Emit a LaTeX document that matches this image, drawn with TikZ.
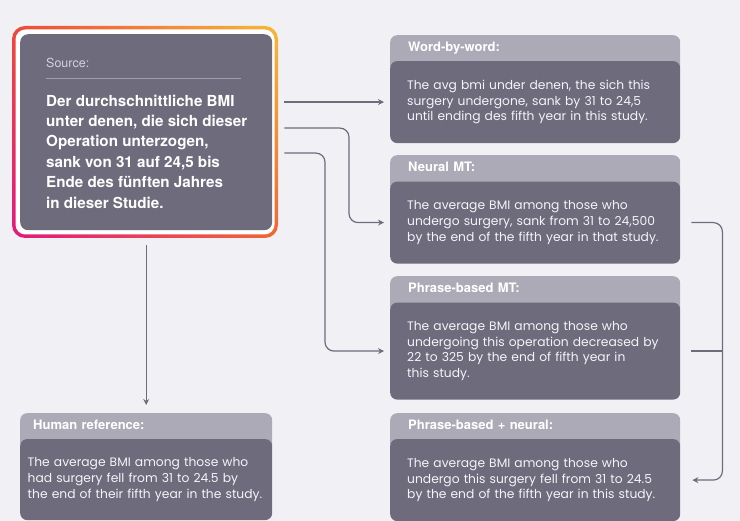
\documentclass[tikz,border=0pt]{standalone}
\usepackage{fontspec}
\setmainfont{Poppins}
\newfontfamily\headfont{TeX Gyre Heros}
\usetikzlibrary{arrows.meta,positioning,shadings}
\definecolor{bg}{HTML}{F1F1F5}
\definecolor{card}{HTML}{6D6B7C}
\definecolor{cardhead}{HTML}{ABAAB6}
\definecolor{cardtext}{HTML}{F4F4F8}
\definecolor{wirecol}{HTML}{6D6B7C}
\definecolor{rulecol}{HTML}{9E9CAD}
\definecolor{srclbl}{HTML}{D4D3DC}
\definecolor{hotpink}{HTML}{E2197E}
\definecolor{hotred}{HTML}{EC4A3B}
\definecolor{hotorange}{HTML}{EF6735}
\definecolor{hotyellow}{HTML}{F6B83A}
\tikzset{
  headbox/.style={fill=cardhead,rounded corners=7pt,anchor=north west,minimum width=290pt,
    text width=254pt,inner xsep=18pt,inner ysep=6pt,text height=10pt,text depth=16pt,
    align=left,text=white,font=\headfont\bfseries\fontsize{13}{14}\selectfont},
  bodybox/.style={fill=card,rounded corners=7pt,minimum width=290pt,text width=256pt,
    inner xsep=17pt,align=left,text=cardtext,font=\fontsize{12.3}{15.7}\selectfont},
  srcbox/.style={fill=card,rounded corners=8pt,anchor=north west,minimum width=252pt,
    minimum height=196pt,inner sep=0pt},
  srclabel/.style={inner sep=0pt,text=srclbl,font=\headfont\fontsize{12.5}{14}\selectfont},
  srctext/.style={inner sep=0pt,anchor=north west,align=left,text=white,
    font=\headfont\bfseries\fontsize{15.2}{20.4}\selectfont},
  srcrule/.style={draw=rulecol,line width=0.8pt},
  link/.style={draw=wirecol,line width=1.2pt,rounded corners=9pt},
  linkarrow/.style={link,-{Stealth[length=6pt,width=6pt]}},
}
\begin{document}
\begin{tikzpicture}[x=1pt,y=1pt]
  \fill[bg] (0,0) rectangle (740,-521);
  \useasboundingbox (0,0) rectangle (740,-521);

  % source card with gradient frame
  \shade[rounded corners=13pt,upper left=hotred,upper right=hotyellow,
    lower left=hotpink,lower right=hotorange] (12,-26) rectangle (278,-238);
  \fill[white,rounded corners=10pt] (15.5,-29.5) rectangle (274.5,-234.5);
  \node[srcbox] (src) at (20,-34) {};
  \node[srclabel,anchor=west] (srcTitle) at ([xshift=26pt,yshift=-29pt]src.north west) {Source:};
  \coordinate (ruleL) at ([yshift=-15pt]srcTitle.west);
  \coordinate (ruleR) at ([xshift=195pt]ruleL);
  \draw[srcrule] (ruleL) -- (ruleR);
  \node[srctext] (srcText) at ([xshift=26pt,yshift=-60.5pt]src.north west)
    {Der durchschnittliche BMI\\unter denen, die sich dieser\\Operation unterzogen,\\
     sank von 31 auf 24,5 bis\\Ende des fünften Jahres\\in dieser Studie.};

  % translation cards
  \node[headbox] (wbwHead) at (390,-35) {Word-by-word:};
  \node[bodybox,minimum height=82pt,below right=-12.5pt and 0pt of wbwHead.south west] (wbwBody)
    {The avg bmi under denen, the sich this\\surgery undergone, sank by 31 to 24,5\\until ending des fifth year in this study.};

  \node[headbox] (nmtHead) at (390,-155) {Neural MT:};
  \node[bodybox,minimum height=82pt,below right=-12pt and 0pt of nmtHead.south west] (nmtBody)
    {The average BMI among those who\\undergo surgery, sank from 31 to 24,500\\by the end of the fifth year in that study.};

  \node[headbox] (pbmtHead) at (390,-276) {Phrase-based MT:};
  \node[bodybox,minimum height=97pt,below right=-12pt and 0pt of pbmtHead.south west] (pbmtBody)
    {The average BMI among those who\\undergoing this operation decreased by\\22 to 325 by the end of fifth year in\\this study.};

  \node[headbox] (pbnHead) at (390,-413) {Phrase-based + neural:};
  \node[bodybox,minimum height=82pt,below right=-12.5pt and 0pt of pbnHead.south west] (pbnBody)
    {The average BMI among those who\\undergo this surgery fell from 31 to 24.5\\by the end of the fifth year in this study.};

  \node[headbox,minimum width=252pt,text width=226pt,inner xsep=13pt] (humHead) at (20,-413) {Human reference:};
  \node[bodybox,minimum height=81pt,minimum width=252pt,text width=237pt,inner xsep=7.5pt,
    below right=-12.5pt and 0pt of humHead.south west] (humBody)
    {The average BMI among those who\\had surgery fell from 31 to 24.5 by\\the end of their fifth year in the study.};

  % connectors
  \coordinate (srcOut1) at ([xshift=12pt]src.east |- wbwBody.west);
  \coordinate (srcOut2) at ([yshift=-26pt]srcOut1);
  \coordinate (srcOut3) at ([yshift=-51pt]srcOut1);
  \draw[linkarrow,shorten >=6pt] (srcOut1) -- (wbwBody.west);
  \draw[linkarrow,shorten >=6pt] (srcOut2) -| ([xshift=-41pt]nmtBody.west) -- (nmtBody.west);
  \draw[linkarrow,shorten >=6pt] (srcOut3) -| ([xshift=-65pt]pbmtBody.west) -- (pbmtBody.west);
  \draw[linkarrow,shorten <=15pt,shorten >=8pt] (src.south) -- (humHead.north);

  \coordinate (mergeTop) at ([xshift=42pt]nmtBody.east);
  \draw[linkarrow,shorten <=11pt,shorten >=12pt] (nmtBody.east) -- (mergeTop)
    -- (mergeTop |- pbnBody.east) -- (pbnBody.east);
  \draw[link,shorten <=11pt] (pbmtBody.east) -- (mergeTop |- pbmtBody.east);
\end{tikzpicture}
\end{document}
